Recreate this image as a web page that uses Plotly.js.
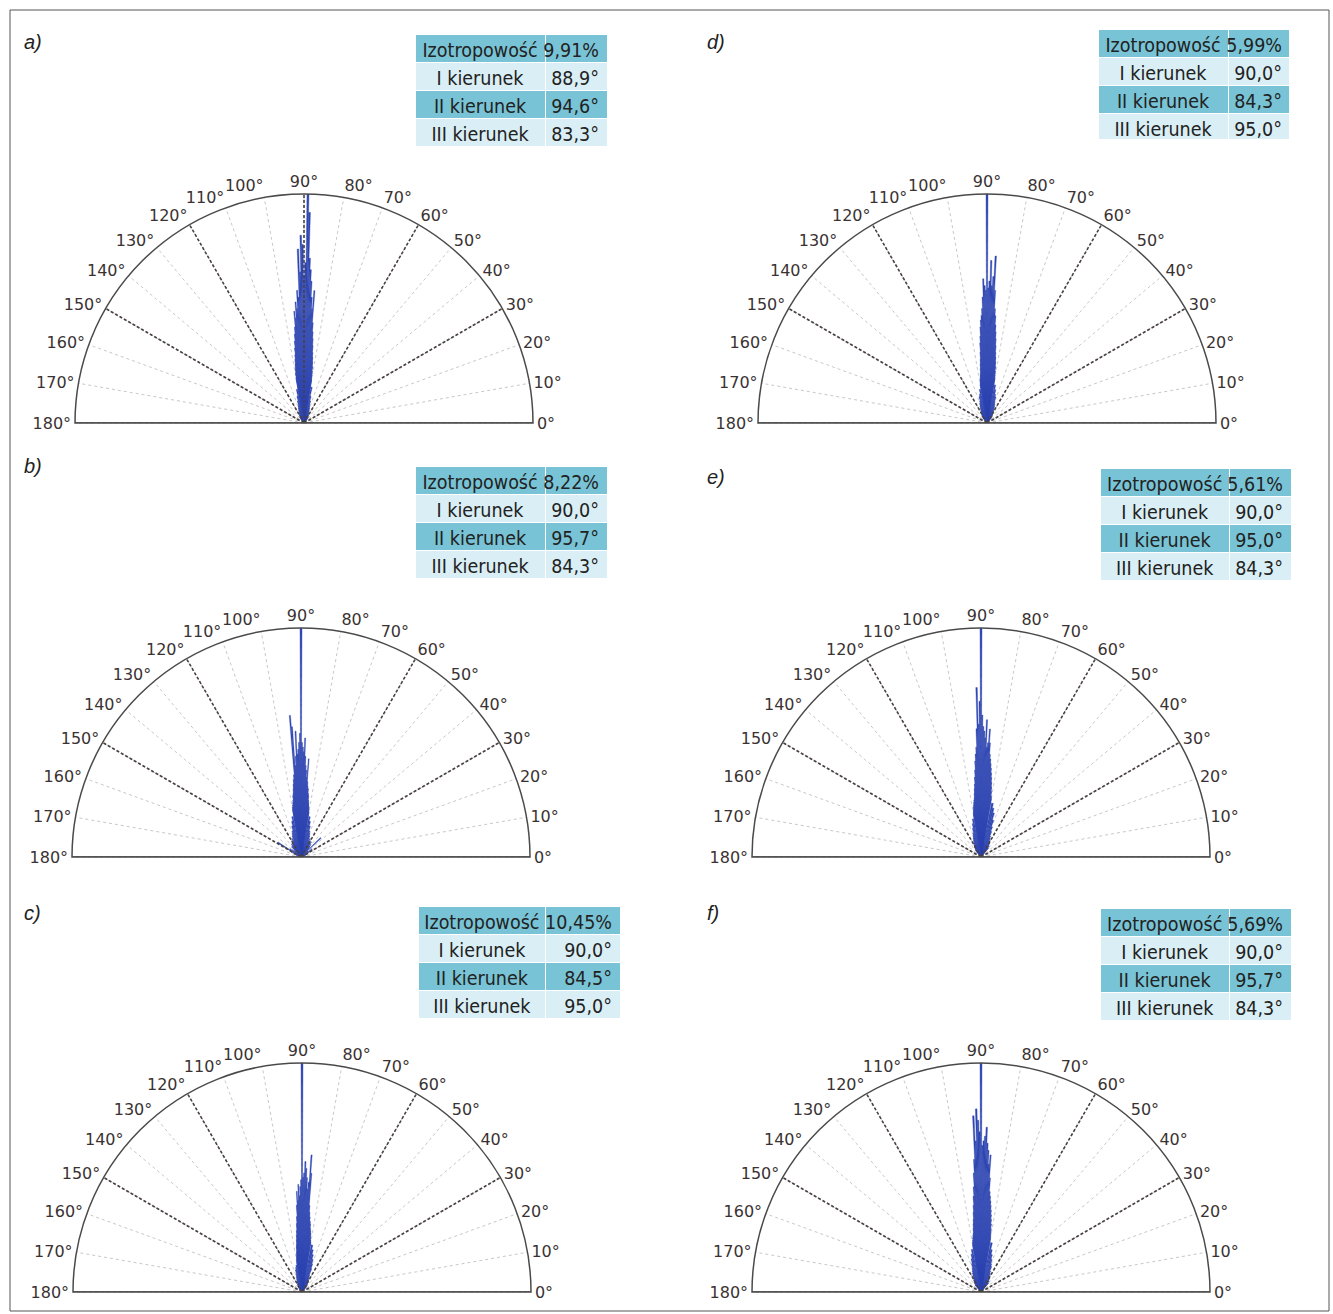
<!DOCTYPE html>
<html><head><meta charset="utf-8">
<script src="https://cdn.plot.ly/plotly-3.0.1.min.js"></script>
<style>html,body{margin:0;padding:0;background:#fff}</style>
</head><body><div id="chart" style="width:1333px;height:1314px"></div>
<script>
// ---------- data ----------
const panelLabels = ["a)", "b)", "c)", "d)", "e)", "f)"];
const tickAngles = [0, 10, 20, 30, 40, 50, 60, 70, 80, 90, 100, 110, 120, 130, 140, 150, 160, 170, 180];
const mainSpokes = [30, 60, 90, 120, 150];

// fine bins (0.5°) of the orientation histogram near 90°
const thetaCore = [80, 80.5, 81, 81.5, 82, 82.5, 83, 83.5, 84, 84.5,
  85, 85.5, 86, 86.5, 87, 87.5, 88, 88.5, 89, 89.5,
  90, 90.5, 91, 91.5, 92, 92.5, 93, 93.5, 94, 94.5,
  95, 95.5, 96, 96.5, 97, 97.5, 98, 98.5, 99, 99.5,
  100];
// coarse bins (2°) on the flanks
const thetaFlank = [50, 52, 54, 56, 58, 60, 62, 64, 66, 68, 70, 72, 74, 76, 78,
  102, 104, 106, 108, 110, 112, 114, 116, 118, 120, 122, 124, 126, 128, 130];

const coreA = [19, 21, 23, 25, 27, 29, 31, 34, 37, 40,
  44, 58, 50, 55, 62, 67, 72, 92, 100, 70,
  64, 78, 82, 66, 76, 55, 58, 50, 53, 46,
  49, 42, 39, 36, 33, 30, 28, 26, 24, 22,
  20];
const flankA = [2, 2, 3, 3, 3, 4, 4, 5, 5, 6, 7, 8, 10, 12, 16,
  15, 12, 10, 8, 7, 6, 5, 5, 4, 4, 3, 3, 3, 2, 2];

const coreB = [20, 21, 22, 23, 24, 25, 27, 28, 30, 31,
  33, 43, 35, 38, 40, 44, 52, 46, 48, 50,
  100, 54, 50, 47, 45, 55, 44, 40, 57, 62,
  36, 34, 32, 30, 28, 27, 25, 24, 23, 22,
  21];
const flankB = [6, 7, 6, 8, 7, 8, 7, 9, 8, 10, 11, 12, 14, 16, 18,
  18, 16, 14, 12, 11, 10, 8, 9, 7, 8, 7, 6, 7, 6, 5];

const coreC = [22, 23, 24, 26, 27, 28, 30, 31, 33, 35,
  38, 52, 60, 48, 45, 50, 54, 57, 52, 50,
  100, 49, 46, 42, 47, 40, 44, 38, 33, 30,
  27, 25, 23, 21, 20, 18, 17, 16, 15, 14,
  13];
const flankC = [3, 3, 4, 4, 5, 5, 6, 7, 8, 11, 13, 15, 17, 19, 21,
  12, 11, 10, 8, 7, 6, 5, 5, 4, 4, 3, 3, 3, 2, 2];

const coreD = [20, 21, 23, 25, 27, 29, 31, 34, 37, 40,
  43, 47, 50, 58, 73, 64, 60, 71, 62, 59,
  100, 58, 60, 63, 55, 50, 47, 45, 42, 38,
  35, 31, 28, 26, 24, 22, 21, 20, 19, 18,
  17];
const flankD = [3, 3, 4, 4, 5, 5, 6, 7, 8, 9, 10, 12, 13, 15, 17,
  15, 13, 12, 10, 9, 8, 7, 6, 5, 5, 4, 4, 3, 3, 2];

const coreE = [26, 27, 29, 31, 33, 35, 37, 39, 41, 43,
  45, 50, 56, 50, 48, 60, 52, 55, 57, 62,
  100, 68, 58, 74, 56, 48, 45, 42, 38, 35,
  32, 30, 28, 26, 25, 24, 23, 22, 21, 20,
  19];
const flankE = [5, 5, 6, 6, 7, 7, 8, 9, 10, 12, 14, 17, 20, 22, 24,
  17, 15, 13, 11, 10, 9, 8, 7, 6, 6, 5, 5, 4, 4, 3];

const coreF = [24, 26, 28, 30, 32, 34, 36, 38, 40, 42,
  44, 50, 60, 56, 62, 65, 72, 68, 66, 64,
  100, 70, 75, 80, 66, 77, 58, 52, 46, 42,
  38, 35, 32, 30, 28, 26, 25, 24, 23, 22,
  21];
const flankF = [5, 5, 6, 6, 7, 7, 8, 9, 10, 12, 13, 15, 17, 19, 22,
  19, 17, 15, 13, 11, 10, 9, 8, 7, 6, 6, 5, 5, 4, 4];

// wide low-level spread at the base of panel b
const bBaseTheta = [20, 24, 28, 32, 36, 40, 44, 48, 132, 136, 140, 144, 148, 152, 156, 160];
const bBaseR = [2, 3, 3, 5, 6, 4, 12, 5, 6, 4, 5, 6, 12, 5, 3, 2];

const tableLabels = ["Izotropowość", "I kierunek", "II kierunek", "III kierunek"];
const tableA = ["9,91%", "88,9°", "94,6°", "83,3°"];
const tableB = ["8,22%", "90,0°", "95,7°", "84,3°"];
const tableC = ["10,45%", "90,0°", "84,5°", "95,0°"];
const tableD = ["5,99%", "90,0°", "84,3°", "95,0°"];
const tableE = ["5,61%", "90,0°", "95,0°", "84,3°"];
const tableF = ["5,69%", "90,0°", "95,7°", "84,3°"];

const coreR = [coreA, coreB, coreC, coreD, coreE, coreF];
const flankR = [flankA, flankB, flankC, flankD, flankE, flankF];
const tables = [tableA, tableB, tableC, tableD, tableE, tableF];

// ---------- layout geometry (pixels) ----------
const W = 1333, H = 1314;
const geom = [
  {cx: 304, by: 423, R: 229, tb: [415, 607, 34, 146], cw: [2.1, 1], lb: [22, 42]},
  {cx: 301, by: 857, R: 229, tb: [415, 607, 466, 578], cw: [2.1, 1], lb: [22, 466]},
  {cx: 302, by: 1292, R: 229, tb: [418, 621, 906, 1019], cw: [1.72, 1], lb: [22, 913]},
  {cx: 987, by: 423, R: 229, tb: [1098, 1290, 29, 140], cw: [2.1, 1], lb: [705, 42]},
  {cx: 981, by: 857, R: 229, tb: [1100, 1291, 468, 580], cw: [2.1, 1], lb: [705, 477]},
  {cx: 981, by: 1292, R: 229, tb: [1100, 1291, 908, 1020], cw: [2.1, 1], lb: [705, 913]}
];
const px = x => x / W, py = y => 1 - y / H;

const TEAL = "#78c4d6", LIGHT = "#daeff5", BAR = "#2f47b2";
const TABLE_FONT = "DejaVu Sans Condensed, Liberation Sans Narrow, Arial Narrow, sans-serif";
const TICK_FONT = "DejaVu Sans, Verdana, sans-serif";

const data = [];
const layout = {
  width: W, height: H, margin: {l: 0, r: 0, t: 0, b: 0},
  paper_bgcolor: "#fff", showlegend: false,
  annotations: [],
  shapes: [{type: "rect", xref: "paper", yref: "paper",
    x0: px(10), x1: px(1329), y0: py(1311), y1: py(10),
    line: {color: "#555", width: 1}}]
};

geom.forEach((g, i) => {
  const sp = i === 0 ? "polar" : "polar" + (i + 1);
  // main dark dashed spokes (the 90° one is hidden under the bars except in a)
  mainSpokes.forEach(a => {
    if (a === 90 && i !== 0) return;
    data.push({type: "scatterpolar", subplot: sp, mode: "lines",
      r: [0, 100], theta: [a, a], hoverinfo: "skip",
      line: {color: "#4a4040", width: 1.6, dash: "3px,2px"}});
  });
  // baseline 0°–180°
  data.push({type: "scatterpolar", subplot: sp, mode: "lines",
    r: [100, 0, 100], theta: [0, 0, 180], hoverinfo: "skip",
    line: {color: "#4a4a4a", width: 1.5}});
  // histogram bars
  data.push({type: "barpolar", subplot: sp, r: flankR[i], theta: thetaFlank,
    width: 2, marker: {color: BAR, line: {color: BAR, width: 0.4}}});
  if (i === 1) {
    data.push({type: "barpolar", subplot: sp, r: bBaseR, theta: bBaseTheta,
      width: 2.5, marker: {color: BAR, line: {color: BAR, width: 0.4}}});
  }
  data.push({type: "barpolar", subplot: sp, r: coreR[i], theta: thetaCore,
    width: 0.5, marker: {color: BAR, line: {color: BAR, width: 0.4}}});

  layout[sp] = {
    domain: {x: [px(g.cx - g.R), px(g.cx + g.R)], y: [py(g.by), py(g.by - g.R)]},
    sector: [0, 180], bgcolor: "rgba(0,0,0,0)", barmode: "overlay",
    radialaxis: {range: [0, 100], visible: false},
    angularaxis: {rotation: 0, direction: "counterclockwise",
      tickmode: "array", tickvals: tickAngles, ticktext: tickAngles.map(a => a + "°"),
      ticks: "", showline: true, linecolor: "#4a4a4a", linewidth: 1.5,
      showgrid: true, gridcolor: "#c8c8c8", gridwidth: 1, griddash: "dot",
      tickfont: {family: TICK_FONT, size: 16, color: "#3a3232"}}
  };

  // table
  const t = tables[i];
  data.push({type: "table",
    domain: {x: [px(g.tb[0]), px(g.tb[1])], y: [py(g.tb[3]), py(g.tb[2])]},
    columnwidth: g.cw,
    header: {values: [tableLabels[0], t[0]], align: ["center", "right"],
      fill: {color: TEAL}, line: {color: "#ffffff", width: 1}, height: 28,
      font: {family: TABLE_FONT, size: 19.5, color: "#222"}},
    cells: {values: [tableLabels.slice(1), t.slice(1)], align: ["center", "right"],
      fill: {color: [[LIGHT, TEAL, LIGHT], [LIGHT, TEAL, LIGHT]]},
      line: {color: "#ffffff", width: 1}, height: 28,
      font: {family: TABLE_FONT, size: 19.5, color: "#222"}}
  });

  layout.annotations.push({text: panelLabels[i], xref: "paper", yref: "paper",
    x: px(g.lb[0]), y: py(g.lb[1]), xanchor: "left", yanchor: "middle", showarrow: false,
    font: {family: "Liberation Sans, Arial, sans-serif", size: 20, style: "italic", color: "#222"}});
});

Plotly.newPlot("chart", data, layout, {displayModeBar: false, staticPlot: true});
</script>
</body></html>
